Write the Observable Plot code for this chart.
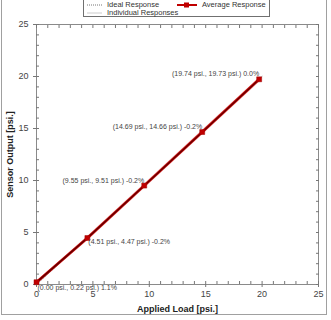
<!DOCTYPE html>
<html>
<head>
<meta charset="utf-8">
<script src="https://cdn.jsdelivr.net/npm/d3@7"></script>
<script src="https://cdn.jsdelivr.net/npm/@observablehq/plot@0.6"></script>
<style>
  body { margin: 0; background: #fff; }
  #wrap { position: relative; width: 331px; height: 320px; overflow: hidden; font-family: "Liberation Sans", Arial, sans-serif; }
  #border { position: absolute; left: 1px; top: -1px; width: 326px; height: 316px; border: 1px solid #a0a0a0; box-sizing: border-box; }
  #chart { position: absolute; left: 0; top: 0; }
  #legend { position: absolute; left: 83px; top: -1px; width: 187px; height: 18px; border: 1px solid #707070; box-sizing: border-box; background: #fff; font-size: 7.5px; color: #333; }
  .li { position: absolute; display: flex; align-items: center; white-space: nowrap; }
  .li span { color: #333; }
  g[aria-label="x-axis label"] text, g[aria-label="y-axis label"] text { font-weight: bold; fill: #222; }
</style>
</head>
<body>
<div id="wrap">
  <div id="border"></div>
  <div id="chart"></div>
  <div id="legend"></div>
</div>
<script>
const loads = [0.00, 4.51, 9.55, 14.69, 19.74];
const outputs = [0.22, 4.47, 9.51, 14.66, 19.73];
const errors = ["1.1%", "-0.2%", "-0.2%", "-0.2%", "0.0%"];
const idealLoads = [0, 20];
const idealOutputs = [0, 20];
const individual1 = [0.20, 4.52, 9.58, 14.74, 19.80];
const individual2 = [0.24, 4.42, 9.46, 14.60, 19.66];
const majorTicks = [0, 5, 10, 15, 20, 25];
const minorTicks = [0,1,2,3,4,5,6,7,8,9,10,11,12,13,14,15,16,17,18,19,20,21,22,23,24,25];
const legendNames = ["Ideal Response", "Average Response", "Individual Responses"];

const avg = loads.map((x, i) => ({x, y: outputs[i], label: `(${x.toFixed(2)} psi., ${outputs[i].toFixed(2)} psi.) ${errors[i]}`, i}));
const ideal = idealLoads.map((x, i) => ({x, y: idealOutputs[i]}));
const indiv = [individual1, individual2].flatMap((s, k) => loads.map((x, i) => ({x, y: s[i], k})));

const red = "#c00000";
const chart = Plot.plot({
  width: 331, height: 320,
  marginLeft: 36, marginRight: 13, marginTop: 24, marginBottom: 36,
  style: {fontFamily: "Liberation Sans, Arial, sans-serif", fontSize: "9px", background: "transparent", color: "#333"},
  x: {domain: [0, 25]},
  y: {domain: [0, 25]},
  marks: [
    Plot.frame({stroke: "#8a8a8a"}),
    Plot.axisX(minorTicks, {anchor: "bottom", tickSize: -3, tickFormat: () => "", label: null, stroke: "#777"}),
    Plot.axisX(minorTicks, {anchor: "top", tickSize: -3, tickFormat: () => "", label: null, stroke: "#777"}),
    Plot.axisY(minorTicks, {anchor: "left", tickSize: -3, tickFormat: () => "", label: null, stroke: "#777"}),
    Plot.axisY(minorTicks, {anchor: "right", tickSize: -3, tickFormat: () => "", label: null, stroke: "#777"}),
    Plot.axisX(majorTicks, {anchor: "bottom", tickSize: 3, tickPadding: 3, label: "Applied Load [psi.]", labelAnchor: "center", labelArrow: "none", labelOffset: 27, stroke: "#777", fill: "#444"}),
    Plot.axisY(majorTicks, {anchor: "left", tickSize: 3, tickPadding: 5, label: "Sensor Output [psi.]", labelAnchor: "center", labelArrow: "none", labelOffset: 30, stroke: "#777", fill: "#444"}),
    Plot.line(indiv, {x: "x", y: "y", z: "k", stroke: "#f2c4c4", strokeWidth: 2.5}),
    Plot.line(ideal, {x: "x", y: "y", stroke: "#999", strokeDasharray: "1.5,1.5", strokeWidth: 1}),
    Plot.line(avg, {x: "x", y: "y", stroke: red, strokeWidth: 2.6}),
    Plot.line(avg, {x: "x", y: "y", stroke: "#5a0000", strokeWidth: 1.1}),
    Plot.dot(avg, {x: "x", y: "y", symbol: "square", r: 2.8, fill: red, stroke: "#a00000", strokeWidth: 0.5}),
    Plot.text(avg.filter(d => d.i === 0), {x: "x", y: "y", text: "label", textAnchor: "start", dx: 1, dy: 3, fontSize: 7, fill: "#444", lineAnchor: "top"}),
    Plot.text(avg.filter(d => d.i === 1), {x: "x", y: "y", text: "label", textAnchor: "start", dx: 1, dy: 1, fontSize: 7, fill: "#444", lineAnchor: "top"}),
    Plot.text(avg.filter(d => d.i >= 2), {x: "x", y: "y", text: "label", textAnchor: "end", dx: 0, dy: -3, fontSize: 7, fill: "#444", lineAnchor: "bottom"})
  ]
});
document.getElementById("chart").appendChild(chart);

const lg = document.getElementById("legend");
function item(left, top, swatch, name) {
  const d = document.createElement("div");
  d.className = "li";
  d.style.left = left + "px"; d.style.top = top + "px";
  d.innerHTML = swatch + `<span style="margin-left:5px">${name}</span>`;
  lg.appendChild(d);
}
item(3, 0, `<svg width="15" height="8"><line x1="0" y1="4" x2="15" y2="4" stroke="#777" stroke-dasharray="1,1"/></svg>`, legendNames[0]);
item(93, 0, `<svg width="20" height="8"><line x1="0" y1="4" x2="20" y2="4" stroke="${red}" stroke-width="2"/><rect x="7" y="1.5" width="5" height="5" fill="${red}"/></svg>`, legendNames[1]);
item(3, 8, `<svg width="15" height="8"><line x1="0" y1="4" x2="15" y2="4" stroke="#ccc" stroke-width="1"/></svg>`, legendNames[2]);
</script>
</body>
</html>
